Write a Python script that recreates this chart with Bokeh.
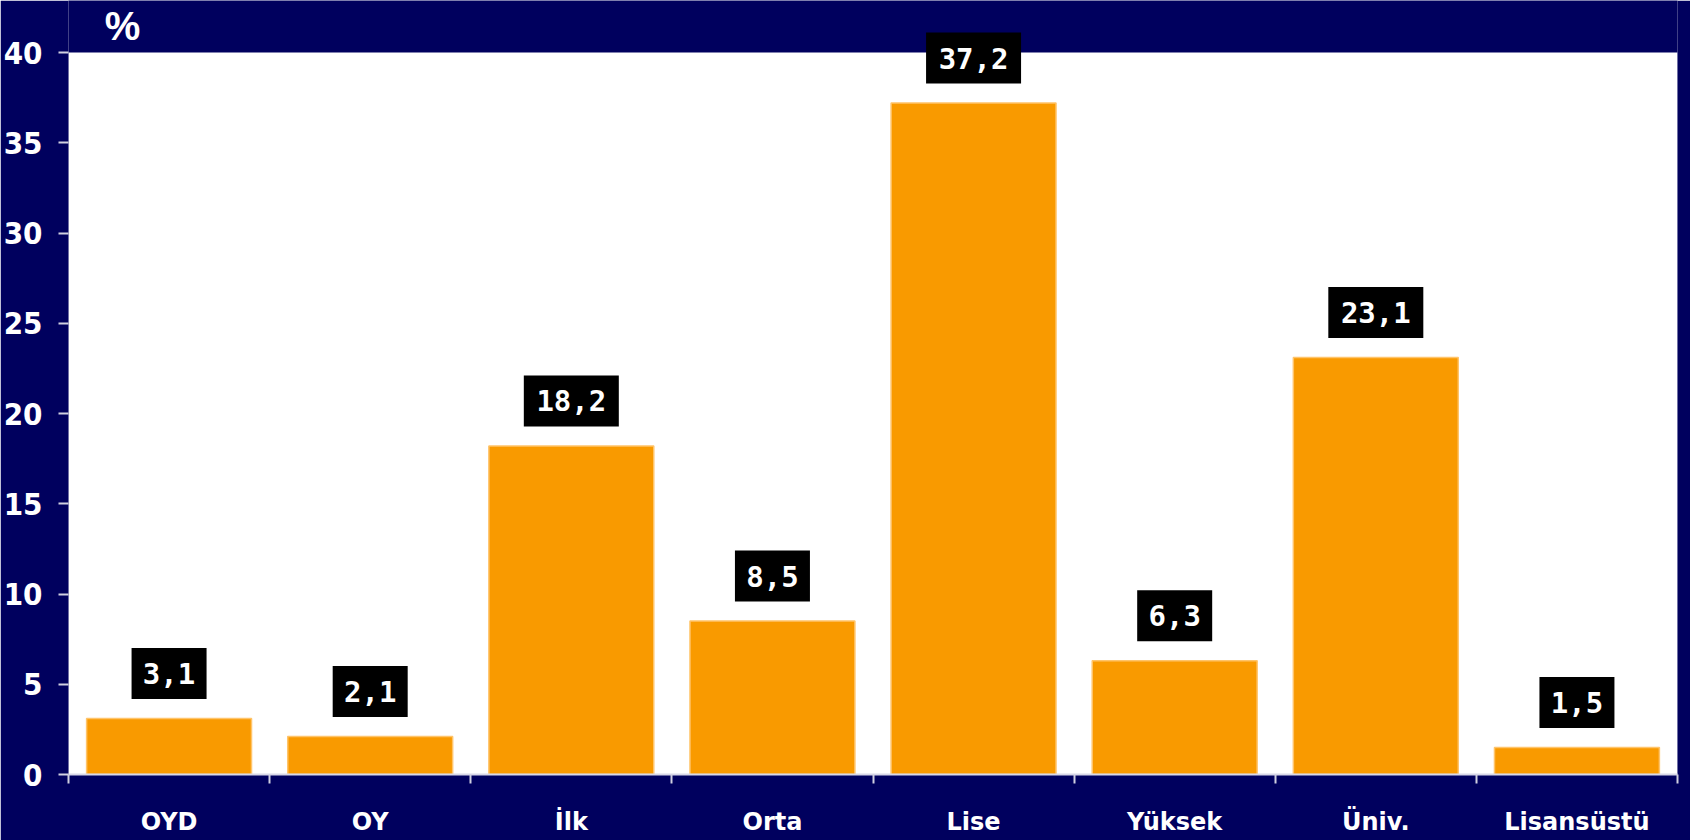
from bokeh.plotting import figure
from bokeh.models import ColumnDataSource, Label, FixedTicker, Range1d
from bokeh.core.properties import value
from bokeh.embed import file_html
from bokeh.resources import INLINE

categories = ["OYD", "OY", "İlk", "Orta", "Lise", "Yüksek", "Üniv.", "Lisansüstü"]
values = [3.1, 2.1, 18.2, 8.5, 37.2, 6.3, 23.1, 1.5]
value_labels = ["3,1", "2,1", "18,2", "8,5", "37,2", "6,3", "23,1", "1,5"]
y_ticks = [0, 5, 10, 15, 20, 25, 30, 35, 40]
Y_MAX = 40

NAVY = "#00005e"
ORANGE = "#f99a00"

W, H = 1690, 840
B_LEFT, B_RIGHT, B_BOTTOM = 66, 13, 66
TOP_GAP = 52                       # navy band above the white plot area
FRAME_H = H - B_BOTTOM
px_per_unit = (FRAME_H - TOP_GAP) / Y_MAX
y_end = Y_MAX + TOP_GAP / px_per_unit
label_offset_units = 45 / px_per_unit

n = len(categories)
centers = [i + 0.5 for i in range(n)]
bounds = [float(i) for i in range(n + 1)]

src = ColumnDataSource(dict(
    x=centers, val=values, lab=value_labels,
    laby=[v + label_offset_units for v in values],
    boxw=[15 + 20 * len(s) for s in value_labels],
))

p = figure(
    x_range=Range1d(0, n), y_range=Range1d(0, y_end),
    width=W, height=H,
    output_backend="svg", toolbar_location=None,
    min_border_left=B_LEFT, min_border_right=B_RIGHT,
    min_border_top=0, min_border_bottom=B_BOTTOM,
)
p.background_fill_color = NAVY
p.border_fill_color = NAVY
p.outline_line_color = None
p.grid.grid_line_color = None

# white plotting area
p.quad(left=[0], right=[n], bottom=[0], top=[Y_MAX],
       fill_color="white", line_color=None)

p.vbar(x="x", top="val", width=0.82, source=src,
       fill_color=ORANGE, line_color="#ffc46a", line_width=1.5)

p.rect(x="x", y="laby", width="boxw", height=51, width_units="screen",
       height_units="screen", source=src, fill_color="black", line_color=None)
p.text(x="x", y="laby", text="lab", source=src,
       text_font=value("DejaVu Sans Mono"), text_font_style="bold",
       text_font_size="29px", text_color="white",
       text_align="center", text_baseline="middle")

# y axis
p.yaxis.ticker = FixedTicker(ticks=y_ticks)
p.yaxis.axis_line_color = None
p.yaxis.major_tick_line_color = "#d0d0e0"
p.yaxis.major_tick_line_width = 2
p.yaxis.major_tick_out = 10
p.yaxis.major_tick_in = 0
p.yaxis.minor_tick_line_color = None
p.yaxis.major_label_standoff = 16
p.yaxis.major_label_text_color = "white"
p.yaxis.major_label_text_font = "DejaVu Sans Condensed"
p.yaxis.major_label_text_font_style = "bold"
p.yaxis.major_label_text_font_size = "31px"

# x axis: labels at category centres, boundary ticks as minor ticks
p.xaxis.ticker = FixedTicker(ticks=centers, minor_ticks=bounds)
p.xaxis.major_label_overrides = {c: lab for c, lab in zip(centers, categories)}
p.xaxis.axis_line_color = "#d8d8e8"
p.xaxis.axis_line_width = 2
p.xaxis.major_tick_line_color = None
p.xaxis.major_tick_out = 0
p.xaxis.major_tick_in = 0
p.xaxis.minor_tick_line_color = "#d0d0e0"
p.xaxis.minor_tick_line_width = 2
p.xaxis.minor_tick_out = 9
p.xaxis.minor_tick_in = 0
p.xaxis.major_label_standoff = 24
p.xaxis.major_label_text_color = "white"
p.xaxis.major_label_text_font = "DejaVu Sans"
p.xaxis.major_label_text_font_style = "bold"
p.xaxis.major_label_text_font_size = "24px"

pct = Label(x=54, y=FRAME_H - 25, x_units="screen", y_units="screen",
            text="%", text_color="white", text_font_size="40px",
            text_font="Liberation Sans", text_font_style="bold",
            text_align="center", text_baseline="middle")
p.add_layout(pct)

open("out.html", "w").write(file_html(p, INLINE))
